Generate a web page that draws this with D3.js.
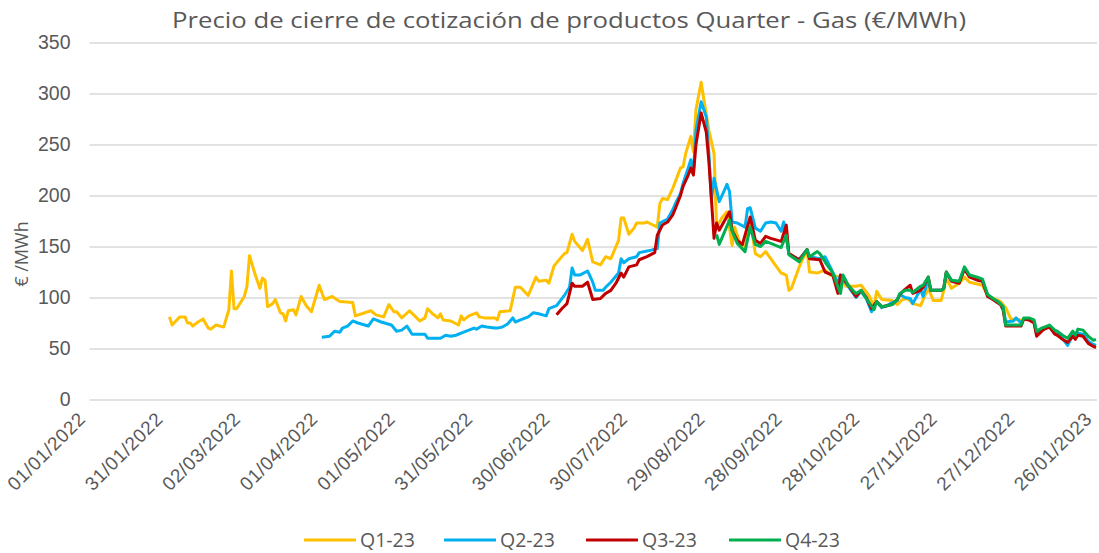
<!DOCTYPE html>
<html lang="es">
<head>
<meta charset="UTF-8">
<script src="https://d3js.org/d3.v7.min.js"></script>
<title>Quarter - Gas</title>
<style>
    body { margin: 0; background: #fff; }
    svg { display: block; font-family: "Open Sans", Lato, sans-serif; }
    .grid line { stroke: #d9d9d9; stroke-width: 1.5px; }
    .tick text { fill: #595959; }
</style>
</head>
<body>
<div id="chart"></div>
<script>
    // cotizaciones: [días desde 01/01/2022, €/MWh]
    const q1_23 = [[31,81],[32,73],[35,81],[37,81],[38,75],[39,75],[40,72],[42,76],[44,79],[46,70],[47,69],[49,73],[52,71],[54,88],[55,126],[56,89],[57,89],[60,101],[61,111],[62,141],[64,124],[66,109],[67,119],[68,117],[69,91],[71,94],[72,98],[74,85],[75,84],[76,77],[77,87],[79,88],[80,83],[82,101],[84,92],[86,86],[89,112],[91,98],[94,101],[97,96],[102,95],[103,82],[109,87],[111,83],[114,81],[116,93],[118,86],[119,86],[121,80],[124,87],[126,82],[128,77],[130,80],[131,89],[133,84],[135,80],[136,84],[137,78],[140,77],[143,73],[144,82],[145,78],[147,82],[150,85],[151,81],[153,80],[157,80],[158,78],[159,86],[163,87],[165,110],[167,110],[170,102],[173,120],[174,116],[177,117],[178,114],[180,131],[184,143],[185,144],[187,162],[188,155],[191,146],[193,157],[195,135],[198,132],[200,140],[202,138],[205,156],[206,178],[207,178],[209,162],[211,168],[212,173],[215,173],[216,174],[220,169],[221,192],[222,197],[224,196],[226,207],[229,227],[230,228],[231,241],[233,258],[234,243],[235,284],[237,311],[238,295],[240,264],[242,241],[243,169],[245,178],[247,184],[248,168],[249,151],[250,169],[252,153],[254,148],[256,176],[258,143],[260,140],[262,145],[268,124],[270,122],[271,107],[272,109],[275,130],[278,147],[279,125],[282,124],[285,127],[287,122],[291,120],[293,111],[297,111],[299,112],[302,102],[304,91],[305,106],[307,98],[311,97],[313,93],[315,98],[317,99],[319,94],[322,92],[325,109],[327,97],[330,97],[331,107],[332,119],[334,109],[337,114],[339,120],[341,115],[346,112],[348,102],[353,96],[355,90],[357,79],[361,78]];

    const q2_23 = [[90,61],[93,62],[95,67],[97,66],[98,70],[100,72],[102,77],[104,75],[108,72],[110,79],[113,76],[117,73],[119,67],[121,68],[123,72],[124,68],[125,64],[128,64],[130,64],[131,60],[134,60],[136,60],[138,63],[140,62],[142,63],[144,65],[146,67],[149,70],[150,69],[152,72],[154,71],[157,70],[158,70],[160,71],[162,74],[164,80],[165,76],[167,78],[170,81],[172,85],[174,84],[177,82],[178,89],[181,92],[184,102],[186,110],[187,129],[188,122],[190,122],[193,126],[195,115],[196,107],[199,107],[200,110],[202,115],[205,124],[206,138],[207,134],[209,138],[212,140],[213,144],[217,146],[220,148],[221,173],[224,177],[226,186],[227,192],[229,202],[230,212],[232,227],[233,235],[234,222],[235,264],[237,292],[239,277],[240,241],[241,196],[242,217],[244,194],[246,205],[247,211],[248,204],[249,174],[251,173],[254,169],[255,187],[256,188],[258,168],[260,165],[262,173],[264,174],[266,173],[268,165],[269,174],[271,143],[275,137],[278,147],[279,140],[283,138],[285,140],[287,130],[290,114],[291,122],[294,111],[297,100],[299,106],[301,99],[303,86],[305,96],[307,90],[309,92],[311,95],[313,97],[314,103],[316,100],[318,99],[319,94],[322,108],[323,101],[325,118],[326,107],[330,107],[331,109],[332,124],[334,117],[337,115],[339,128],[341,121],[344,119],[346,117],[348,102],[350,99],[353,94],[354,91],[355,76],[358,77],[359,80],[361,75],[362,79],[364,79],[366,76],[367,64],[369,68],[370,70],[372,71],[374,66],[375,65],[377,60],[379,53],[381,63],[382,60],[383,65],[385,64],[387,57],[389,54],[390,53]];

    const q3_23 = [[181,83],[183,89],[185,94],[187,114],[188,111],[191,111],[193,115],[195,98],[198,99],[200,104],[202,107],[204,114],[206,124],[207,120],[209,130],[212,132],[213,137],[216,140],[219,144],[220,161],[222,171],[224,174],[226,181],[227,187],[229,200],[230,209],[232,220],[233,227],[234,220],[235,250],[237,281],[239,262],[240,233],[242,158],[243,173],[244,166],[248,184],[249,166],[251,156],[253,152],[256,179],[258,156],[260,153],[262,160],[264,158],[268,155],[270,171],[271,143],[275,137],[278,147],[279,138],[283,137],[285,125],[288,122],[290,104],[291,122],[294,112],[297,101],[299,107],[301,100],[303,89],[305,96],[307,91],[309,92],[311,93],[313,98],[314,103],[316,108],[318,112],[319,104],[322,107],[323,110],[325,120],[326,107],[330,107],[331,109],[332,125],[334,116],[337,114],[339,128],[341,120],[344,117],[346,116],[348,101],[350,98],[353,93],[354,88],[355,72],[358,72],[361,72],[362,79],[364,78],[366,75],[367,62],[369,67],[370,69],[372,71],[374,64],[375,63],[377,59],[379,56],[381,62],[382,59],[383,63],[385,62],[387,55],[389,52],[390,51]];

    const q4_23 = [[243,162],[244,152],[245,158],[248,176],[249,165],[251,153],[254,145],[256,169],[258,152],[260,150],[262,155],[264,153],[268,149],[270,161],[271,142],[275,135],[278,147],[279,140],[282,145],[283,143],[285,135],[288,124],[291,104],[292,122],[294,112],[297,104],[299,107],[301,99],[304,88],[305,96],[307,91],[311,93],[313,98],[314,104],[316,107],[318,107],[319,105],[322,111],[323,112],[325,120],[326,107],[330,107],[331,109],[332,125],[334,117],[337,116],[339,130],[341,122],[344,120],[346,118],[348,103],[350,99],[352,96],[354,91],[355,73],[358,73],[361,73],[362,80],[364,80],[366,78],[367,67],[369,70],[370,71],[372,73],[374,68],[375,67],[377,63],[379,60],[381,67],[382,63],[383,69],[385,68],[387,62],[389,58],[390,59]];

    const seriesNames = ["Q1-23", "Q2-23", "Q3-23", "Q4-23"];
    const seriesData = [q1_23, q2_23, q3_23, q4_23];
    const seriesColors = ["#ffc000", "#00b0f0", "#c00000", "#00b050"];
    const yTicks = [0, 50, 100, 150, 200, 250, 300, 350];
    const xTickStep = 30; // días entre etiquetas
    const lastDay = 390;

    const title = "Precio de cierre de cotización de productos Quarter - Gas (€/MWh)";
    const yLabel = "€ /MWh";

    /*------------------- Layout --------------------*/
    const width = 1099, height = 553;
    const margin = { top: 42.5, right: 2, bottom: 153.5, left: 89.5 };

    const svg = d3.select("#chart").append("svg")
        .attr("width", width)
        .attr("height", height);

    const start = new Date(Date.UTC(2022, 0, 1));
    const toDate = d => d3.utcDay.offset(start, d);

    const x = d3.scaleUtc()
        .domain([start, toDate(lastDay)])
        .range([margin.left, width - margin.right - 1]);

    const y = d3.scaleLinear()
        .domain([0, 350])
        .range([height - margin.bottom, margin.top]);

    // gridlines + y axis
    const yAxis = svg.append("g")
        .attr("class", "grid")
        .attr("transform", `translate(${margin.left},0)`)
        .call(d3.axisLeft(y)
            .tickValues(yTicks)
            .tickSize(-(width - margin.left - margin.right))
            .tickPadding(19));
    yAxis.select(".domain").remove();
    yAxis.selectAll("text")
        .attr("font-size", "19.5px");

    // x axis, labels at 45 degrees
    const xAxis = svg.append("g")
        .attr("transform", `translate(0,${height - margin.bottom})`)
        .call(d3.axisBottom(x)
            .tickValues(d3.range(0, lastDay + 1, xTickStep).map(toDate))
            .tickFormat(d3.utcFormat("%d/%m/%Y"))
            .tickSize(0));
    xAxis.select(".domain").remove();
    xAxis.selectAll("text")
        .attr("font-size", "19px")
        .attr("letter-spacing", "0.6px")
        .attr("text-anchor", "end")
        .attr("dy", "0.35em")
        .attr("transform", "translate(-8,16) rotate(-45)")
        .attr("x", 0)
        .attr("y", 0);

    // series
    const line = d3.line()
        .x(d => x(toDate(d[0])))
        .y(d => y(d[1]));

    seriesData.forEach((data, i) => {
        svg.append("path")
            .datum(data)
            .attr("fill", "none")
            .attr("stroke", seriesColors[i])
            .attr("stroke-width", 3)
            .attr("stroke-linejoin", "round")
            .attr("d", line);
    });

    // title
    svg.append("text")
        .attr("x", 569)
        .attr("y", 28)
        .attr("text-anchor", "middle")
        .attr("font-size", "22px")
        .attr("textLength", 794)
        .attr("lengthAdjust", "spacingAndGlyphs")
        .attr("fill", "#595959")
        .text(title);

    // y label
    svg.append("text")
        .attr("transform", "translate(28,254) rotate(-90)")
        .attr("text-anchor", "middle")
        .attr("font-size", "18px")
        .attr("fill", "#595959")
        .text(yLabel);

    // legend
    const legendX = [304, 444, 586, 729];
    const legend = svg.append("g");
    seriesNames.forEach((name, i) => {
        legend.append("line")
            .attr("x1", legendX[i]).attr("x2", legendX[i] + 52)
            .attr("y1", 540).attr("y2", 540)
            .attr("stroke", seriesColors[i])
            .attr("stroke-width", 3);
        legend.append("text")
            .attr("x", legendX[i] + 56)
            .attr("y", 547)
            .attr("font-size", "19.5px")
            .attr("fill", "#595959")
            .text(name);
    });
</script>
</body>
</html>
